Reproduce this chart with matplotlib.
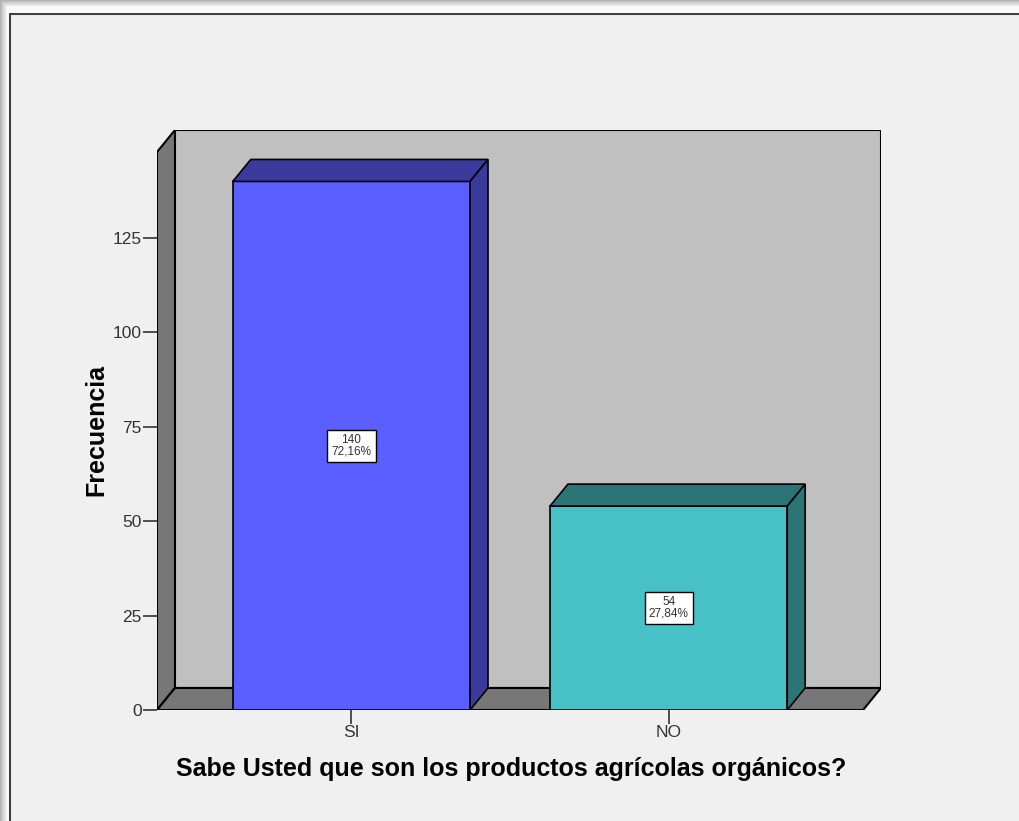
import matplotlib
matplotlib.use("Agg")
import matplotlib.pyplot as plt
from matplotlib.patches import Polygon, Rectangle

# data
categories = ['SI', 'NO']
frequencies = [140, 54]
percent_labels = ['72,16%', '27,84%']
y_ticks = [0, 25, 50, 75, 100, 125]

front_colors = ['#5b5fff', '#48c1c6']
dark_colors = ['#3a3a9c', '#2b7576']

W, H = 1019, 821


def main():
    fig = plt.figure(figsize=(W / 100, H / 100), dpi=100)
    fig.patch.set_facecolor('#f0f0f0')

    # window frame / shadow round the chart (pixel coords)
    px = fig.transFigure
    shades = ['#b4b4b4', '#c0c0c0', '#cbcbcb', '#d6d6d6', '#e0e0e0', '#e9e9e9', '#f2f2f2', '#fafafa']
    for i, c in enumerate(shades):
        fig.patches.append(Rectangle((i / W, 0), 1, 1 - i / H, transform=px, facecolor=c, edgecolor='none', zorder=-5))
    fig.patches.append(Rectangle((8 / W, 0), 1, 1 - 12 / H, transform=px, facecolor='white', edgecolor='none', zorder=-4))
    fig.patches.append(Rectangle((10 / W, -0.01), 1, 1 - 14 / H + 0.01, transform=px,
                                 facecolor='#f0f0f0', edgecolor='#404040', linewidth=1.5, zorder=-3))

    # geometry of the pseudo-3d frame in data units
    x0, x1 = -0.613, 1.613
    y_top = 147.8
    dx, dy = 0.0566, 5.83
    half_w = 0.374

    left, right, top, bottom = 157, 881, 130, 710
    ax = fig.add_axes([left / W, 1 - bottom / H, (right - left) / W, (bottom - top) / H])
    ax.set_xlim(x0, x1 + dx)
    ax.set_ylim(0, y_top + dy)
    ax.patch.set_visible(False)
    for s in ax.spines.values():
        s.set_visible(False)

    lw = 1.5
    # back wall, left wall, floor
    ax.add_patch(Polygon([(x0 + dx, dy), (x1 + dx, dy), (x1 + dx, y_top + dy), (x0 + dx, y_top + dy)],
                         closed=True, facecolor='#c0c0c0', edgecolor='black', linewidth=lw, zorder=1))
    ax.add_patch(Polygon([(x0, 0), (x0 + dx, dy), (x0 + dx, y_top + dy), (x0, y_top)],
                         closed=True, facecolor='#777777', edgecolor='black', linewidth=lw, zorder=2))
    ax.add_patch(Polygon([(x0, 0), (x1, 0), (x1 + dx, dy), (x0 + dx, dy)],
                         closed=True, facecolor='#777777', edgecolor='black', linewidth=lw, zorder=2))

    # bars
    for i, v in enumerate(frequencies):
        a, b = i - half_w, i + half_w
        ax.add_patch(Polygon([(a, 0), (b, 0), (b, v), (a, v)], closed=True,
                             facecolor=front_colors[i], edgecolor='black', linewidth=1.2, zorder=3))
        ax.add_patch(Polygon([(a, v), (b, v), (b + dx, v + dy), (a + dx, v + dy)], closed=True,
                             facecolor=dark_colors[i], edgecolor='black', linewidth=1.2, zorder=3))
        ax.add_patch(Polygon([(b, 0), (b + dx, dy), (b + dx, v + dy), (b, v)], closed=True,
                             facecolor=dark_colors[i], edgecolor='black', linewidth=1.2, zorder=3))
        ax.text(i, v / 2, f'{v}\n{percent_labels[i]}', ha='center', va='center', fontsize=8.5,
                family='Liberation Sans', color='#333333', linespacing=0.95, zorder=5,
                bbox=dict(boxstyle='square,pad=0.35', facecolor='white', edgecolor='black', linewidth=1.0))

    ax.set_yticks(y_ticks)
    ax.set_xticks(range(len(categories)))
    ax.set_xticklabels(categories)
    ax.tick_params(axis='y', length=10, width=1.2, pad=1, labelsize=12.5, colors='#333333')
    ax.tick_params(axis='x', length=10, width=1.2, pad=1, labelsize=12.5, colors='#333333')
    for lab in ax.get_xticklabels() + ax.get_yticklabels():
        lab.set_family('Liberation Sans')

    fig.text(96 / W, 1 - 430 / H, 'Frecuencia', rotation=90, ha='center', va='center',
             fontsize=18, fontweight='bold', family='Liberation Sans')
    fig.text(511 / W, 1 - 769 / H, 'Sabe Usted que son los productos agrícolas orgánicos?',
             ha='center', va='center', fontsize=18, fontweight='bold', family='Liberation Sans')

    fig.savefig('out.png', dpi=100, facecolor=fig.get_facecolor())


if __name__ == "__main__":
    main()
